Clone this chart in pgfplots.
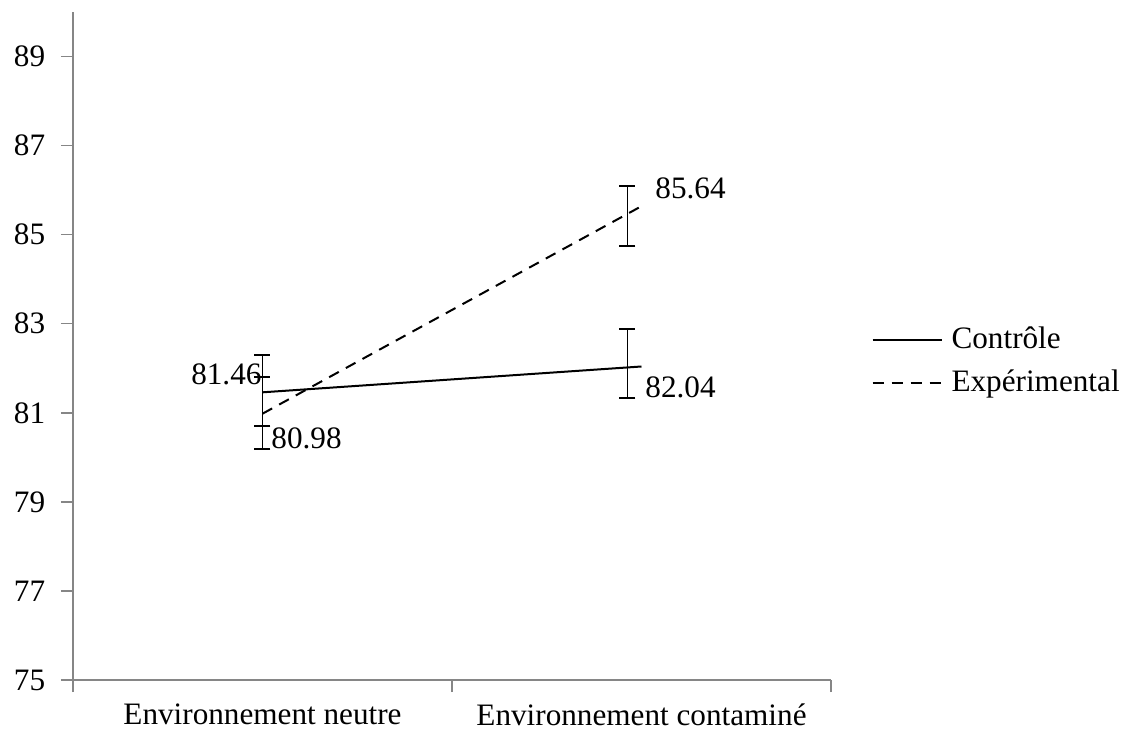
\documentclass[border=0pt]{standalone}
\usepackage{fontspec}
\setmainfont{Liberation Serif}
\usepackage{pgfplots}
\pgfplotsset{compat=1.18}
\definecolor{axisgray}{RGB}{134,134,134}
\begin{document}
\fontsize{15.6pt}{18.7pt}\selectfont
\begin{tikzpicture}
\useasboundingbox (-36.5pt,-25pt) rectangle (526.5pt,340pt);
\begin{axis}[
    scale only axis,
    width=379pt, height=334pt,
    xmin=-0.5, xmax=1.5,
    ymin=75, ymax=90,
    axis lines*=left,
    axis line style={draw=axisgray, line width=0.7pt},
    tick align=outside,
    major tick length=6pt,
    tick style={draw=axisgray, line width=0.7pt},
    ytick={75,77,...,89},
    /pgf/number format/assume math mode=true,
    yticklabel style={xshift=-2.5pt},
    xtick={-0.5,0.5,1.5},
    xticklabels={},
    extra x ticks={0,1},
    extra x tick labels={Environnement neutre, Environnement contaminé},
    extra x tick style={tick style={draw=none}, tick label style={yshift=-0.5pt}},
    legend style={at={(axis description cs:1.053,0.4768)}, anchor=west,
        draw=none, fill=none, inner sep=0pt, row sep=4.5pt},
    legend cell align=left,
    legend image code/.code={\draw[#1] (0pt,0pt) -- (34.5pt,0pt);},
    /tikz/every odd column/.append style={column sep=2.5pt},
]
\addplot[black, line width=1pt] coordinates {(0,81.46) (1,82.04)}
    node[pos=0, anchor=east, inner sep=0pt, yshift=9pt] {81.46}
    node[pos=1, anchor=west, inner sep=0pt, xshift=1.5pt, yshift=-10.5pt] {82.04};
\addlegendentry{Contrôle}
\addplot[black, line width=1pt, dash pattern=on 5.5pt off 4pt] coordinates {(0,80.98) (1,85.64)}
    node[pos=0, anchor=west, inner sep=0pt, xshift=4pt, yshift=-12.5pt] {80.98}
    node[pos=1, anchor=west, inner sep=0pt, xshift=6.5pt, yshift=9pt] {85.64};
\addlegendentry{Expérimental}
% error bars (drawn slightly left of the second category, as in the original)
\addplot[draw=none, forget plot,
    error bars/.cd, y dir=both, y explicit,
    error bar style={black, line width=0.8pt},
    error mark options={rotate=90, black, line width=1pt, mark size=4pt}]
    coordinates {
    (0,81.46) += (0,0.84) -= (0,0.75)
    (0,80.98) += (0,0.83) -= (0,0.79)
    (0.963,82.04) += (0,0.84) -= (0,0.71)
    (0.963,85.64) += (0,0.46) -= (0,0.90)
    };
\end{axis}
\end{tikzpicture}
\end{document}
